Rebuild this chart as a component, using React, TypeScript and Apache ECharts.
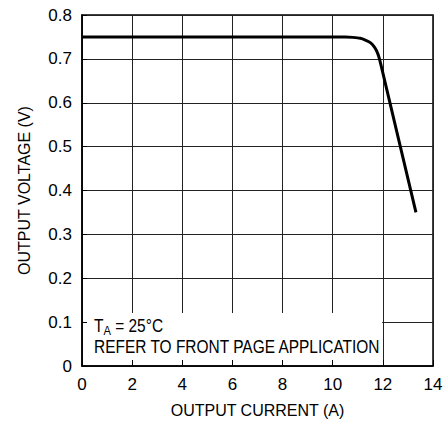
import React, { useEffect, useRef } from "react";
import * as echarts from "echarts";

const currentA = [0, 2, 4, 6, 8, 10, 10.5, 10.8, 11.1, 11.3, 11.5, 11.65, 11.75, 11.85, 11.95, 13.32];
const voltageV = [0.75, 0.75, 0.75, 0.75, 0.75, 0.75, 0.75, 0.749, 0.747, 0.743, 0.737, 0.728, 0.718, 0.703, 0.68, 0.35];
const xTicks = [0, 2, 4, 6, 8, 10, 12, 14];
const yTicks = [0, 0.1, 0.2, 0.3, 0.4, 0.5, 0.6, 0.7, 0.8];
const noteBox = [[0, 0], [11.97, 0.1207]];
const xName = "OUTPUT CURRENT (A)";
const yName = "OUTPUT VOLTAGE (V)";
const noteLine1 = ["T", "A", " = 25°C"];
const noteLine2 = "REFER TO FRONT PAGE APPLICATION";

const FONT = "'Liberation Sans Narrow', 'Arial Narrow', 'Liberation Sans', Arial, sans-serif";

export default function App() {
  const ref = useRef<HTMLDivElement>(null);
  useEffect(() => {
    if (!ref.current) return;
    const chart = echarts.init(ref.current, null, { renderer: "svg" });
    const xMin = xTicks[0], xMax = xTicks[xTicks.length - 1];
    const yMin = yTicks[0], yMax = yTicks[yTicks.length - 1];
    const gridLine = { show: true, lineStyle: { color: "#222", width: 1 } };
    const label = { color: "#000", fontFamily: FONT, fontSize: 17 };
    chart.setOption({
      animation: false,
      backgroundColor: "#fff",
      grid: { left: 82, top: 15, width: 351, height: 351, show: true, borderColor: "#000", borderWidth: 1.5, backgroundColor: "transparent" },
      xAxis: [
        {
          type: "value", min: xMin, max: xMax, interval: 2, z: 0,
          splitLine: gridLine, axisLine: { show: false }, axisTick: { show: false }, axisLabel: { show: false },
        },
        {
          type: "value", min: xMin, max: xMax, interval: 2, z: 3, position: "bottom",
          splitLine: { show: false },
          axisLine: { show: true, onZero: false, lineStyle: { color: "#000", width: 1.5 } },
          axisTick: { show: true, inside: true, length: 6, lineStyle: { color: "#000", width: 1 } },
          axisLabel: { ...label, margin: 10, formatter: (v: number) => String(v) },
          name: xName, nameLocation: "middle", nameGap: 36,
          nameTextStyle: { color: "#000", fontFamily: FONT, fontSize: 16 },
        },
      ],
      yAxis: [
        {
          type: "value", min: yMin, max: yMax, interval: 0.1, z: 0,
          splitLine: gridLine, axisLine: { show: false }, axisTick: { show: false }, axisLabel: { show: false },
        },
        {
          type: "value", min: yMin, max: yMax, interval: 0.1, z: 3, position: "left",
          splitLine: { show: false },
          axisLine: { show: true, onZero: false, lineStyle: { color: "#000", width: 1.5 } },
          axisTick: { show: true, inside: true, length: 5, lineStyle: { color: "#000", width: 1 } },
          axisLabel: { ...label, margin: 10, formatter: (v: number) => (v === 0 ? "0" : v.toFixed(1)) },
          name: yName, nameLocation: "middle", nameGap: 50,
          nameTextStyle: { color: "#000", fontFamily: FONT, fontSize: 16 },
        },
      ],
      series: [
        {
          type: "custom", xAxisIndex: 0, yAxisIndex: 0, z: 1, silent: true,
          data: [0],
          renderItem: (_p: any, api: any) => {
            const a = api.coord(noteBox[0]);
            const b = api.coord(noteBox[1]);
            return {
              type: "rect",
              shape: { x: a[0] + 1, y: b[1], width: b[0] - a[0] - 1, height: a[1] - b[1] - 1 },
              style: { fill: "#fff" },
            };
          },
        },
        {
          type: "line", xAxisIndex: 1, yAxisIndex: 1, z: 4,
          data: currentA.map((x, i) => [x, voltageV[i]]),
          showSymbol: false, smooth: 0.2,
          lineStyle: { color: "#000", width: 3 },
        },
      ],
      graphic: [
        {
          type: "text", x: 94, y: 316, scaleX: 0.86, z: 10,
          style: {
            text: `{m|${noteLine1[0]}}{s|${noteLine1[1]}}{m|${noteLine1[2]}}`,
            rich: {
              m: { fontFamily: FONT, fontSize: 18, fill: "#000" },
              s: { fontFamily: FONT, fontSize: 13, fill: "#000", padding: [8, 0, 0, 0] },
            },
          },
        },
        {
          type: "text", x: 94, y: 338, scaleX: 0.86, z: 10,
          style: { text: noteLine2, fontFamily: FONT, fontSize: 18, fill: "#000" },
        },
      ],
    });
    return () => chart.dispose();
  }, []);
  return <div ref={ref} style={{ position: "fixed", left: 0, top: 0, width: 446, height: 424 }} />;
}
